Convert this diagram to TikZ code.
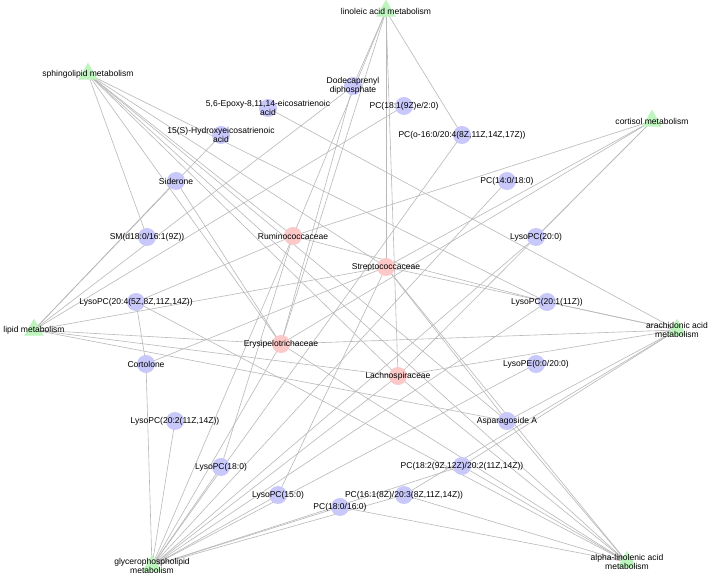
\documentclass[tikz,border=0pt]{standalone}
\usepackage{fontspec}
\setmainfont{Liberation Sans}
\usetikzlibrary{shapes.geometric}
\usetikzlibrary{backgrounds}
\definecolor{metabblue}{RGB}{200,200,250}
\definecolor{bactred}{RGB}{252,200,200}
\definecolor{pathgreen}{RGB}{190,245,190}
\definecolor{linkgray}{RGB}{185,185,185}

\begin{document}
\begin{tikzpicture}[x=0.75pt, y=-0.75pt,
  metabolite/.style={circle, fill=metabblue, minimum size=13.5pt, inner sep=0pt},
  bacterium/.style={circle, fill=bactred, minimum size=13.5pt, inner sep=0pt},
  pathway/.style={regular polygon, regular polygon sides=3, fill=pathgreen, minimum size=17pt, inner sep=0pt},
  lbl/.style={font=\fontsize{6.4}{6.9}\selectfont, align=center, inner sep=0pt},
  link/.style={draw=linkgray, line width=0.45pt}]
  \useasboundingbox (0,0) rectangle (708,577);
  % pathways
  \node[pathway, label={[lbl]center:{linoleic acid metabolism}}] (linoleic) at (386,11) {};
  \node[pathway, label={[lbl]center:{sphingolipid metabolism}}] (sphingo) at (88,74) {};
  \node[pathway, label={[lbl]center:{cortisol metabolism}}] (cortisol) at (652,121) {};
  \node[pathway, label={[lbl]center:{lipid metabolism}}] (lipid) at (34,330) {};
  \node[pathway, label={[lbl]center:{arachidonic acid\\metabolism}}] (arachidonic) at (677,330) {};
  \node[pathway, label={[lbl]center:{glycerophospholipid\\metabolism}}] (glycerophospho) at (152,566) {};
  \node[pathway, label={[lbl]center:{alpha-linolenic acid\\metabolism}}] (alphalin) at (627,562) {};
  % bacteria
  \node[bacterium, label={[lbl]center:{Ruminococcaceae}}] (rumino) at (293,236) {};
  \node[bacterium, label={[lbl]center:{Streptococcaceae}}] (strepto) at (386,267) {};
  \node[bacterium, label={[lbl]center:{Erysipelotrichaceae}}] (erysipelo) at (281,344) {};
  \node[bacterium, label={[lbl]center:{Lachnospiraceae}}] (lachno) at (398,376) {};
  % metabolites
  \node[metabolite, label={[lbl]center:{Dodecaprenyl\\diphosphate}}] (dodeca) at (353,86) {};
  \node[metabolite, label={[lbl]center:{5,6-Epoxy-8,11,14-eicosatrienoic\\acid}}] (epoxy) at (268,108) {};
  \node[metabolite, label={[lbl]center:{15(S)-Hydroxyeicosatrienoic\\acid}}] (hydroxy) at (221,135) {};
  \node[metabolite, label={[lbl]center:{PC(18:1(9Z)e/2:0)}}] (pcether) at (404,106) {};
  \node[metabolite, label={[lbl]center:{PC(o-16:0/20:4(8Z,11Z,14Z,17Z))}}] (pcplasm) at (462,135) {};
  \node[metabolite, label={[lbl]center:{Siderone}}] (siderone) at (176,181) {};
  \node[metabolite, label={[lbl]center:{PC(14:0/18:0)}}] (pcmyr) at (507,181) {};
  \node[metabolite, label={[lbl]center:{SM(d18:0/16:1(9Z))}}] (sm) at (147,237) {};
  \node[metabolite, label={[lbl]center:{LysoPC(20:0)}}] (lpcarach) at (536,237) {};
  \node[metabolite, label={[lbl]center:{LysoPC(20:4(5Z,8Z,11Z,14Z))}}] (lpcaa) at (136,302) {};
  \node[metabolite, label={[lbl]center:{LysoPC(20:1(11Z))}}] (lpcgond) at (547,302) {};
  \node[metabolite, label={[lbl]center:{Cortolone}}] (cortolone) at (146,364) {};
  \node[metabolite, label={[lbl]center:{LysoPE(0:0/20:0)}}] (lpe) at (536,364) {};
  \node[metabolite, label={[lbl]center:{LysoPC(20:2(11Z,14Z))}}] (lpceda) at (175,421) {};
  \node[metabolite, label={[lbl]center:{Asparagoside A}}] (aspara) at (507,421) {};
  \node[metabolite, label={[lbl]center:{LysoPC(18:0)}}] (lpcstear) at (221,467) {};
  \node[metabolite, label={[lbl]center:{PC(18:2(9Z,12Z)/20:2(11Z,14Z))}}] (pclin) at (462,466) {};
  \node[metabolite, label={[lbl]center:{LysoPC(15:0)}}] (lpcpenta) at (278,495) {};
  \node[metabolite, label={[lbl]center:{PC(16:1(8Z)/20:3(8Z,11Z,14Z))}}] (pcpalmit) at (404,495) {};
  \node[metabolite, label={[lbl]center:{PC(18:0/16:0)}}] (pcsat) at (340,507) {};
  % links, kept under the nodes
  \begin{scope}[on background layer]
    \fill[white] (0,0) rectangle (708,577);
    \foreach \a/\b in {linoleic/dodeca, linoleic/pcplasm, linoleic/rumino, linoleic/strepto,
        linoleic/erysipelo, linoleic/lachno,
        sphingo/sm, sphingo/erysipelo, sphingo/lachno, sphingo/aspara, sphingo/rumino,
        sphingo/strepto, sphingo/lpcgond, sphingo/alphalin,
        cortisol/rumino, cortisol/strepto, cortisol/erysipelo, cortisol/lachno, cortisol/lpcarach,
        lipid/siderone, lipid/hydroxy, lipid/dodeca, lipid/pcether, lipid/strepto,
        lipid/erysipelo, lipid/lachno, lipid/aspara,
        arachidonic/epoxy, arachidonic/lpcgond, arachidonic/strepto, arachidonic/erysipelo,
        arachidonic/lachno, arachidonic/aspara, arachidonic/pclin, arachidonic/pcpalmit,
        glycerophospho/cortolone, glycerophospho/lpceda, glycerophospho/lpcstear,
        glycerophospho/lpcpenta, glycerophospho/pcsat, glycerophospho/pcpalmit,
        glycerophospho/pclin, glycerophospho/lpe, glycerophospho/lpcgond,
        glycerophospho/lpcarach, glycerophospho/pcmyr, glycerophospho/pcplasm,
        glycerophospho/rumino, glycerophospho/lachno, glycerophospho/erysipelo,
        alphalin/aspara, alphalin/strepto, alphalin/lachno, alphalin/erysipelo,
        alphalin/pclin, alphalin/pcpalmit, alphalin/pcsat, alphalin/lpcaa,
        rumino/lpcaa, rumino/lpcgond, rumino/lpcstear,
        strepto/cortolone, strepto/lpcpenta, strepto/aspara,
        erysipelo/siderone, erysipelo/dodeca, lpcaa/cortolone}
      \draw[link] (\a.center) -- (\b.center);
  \end{scope}
\end{tikzpicture}
\end{document}
